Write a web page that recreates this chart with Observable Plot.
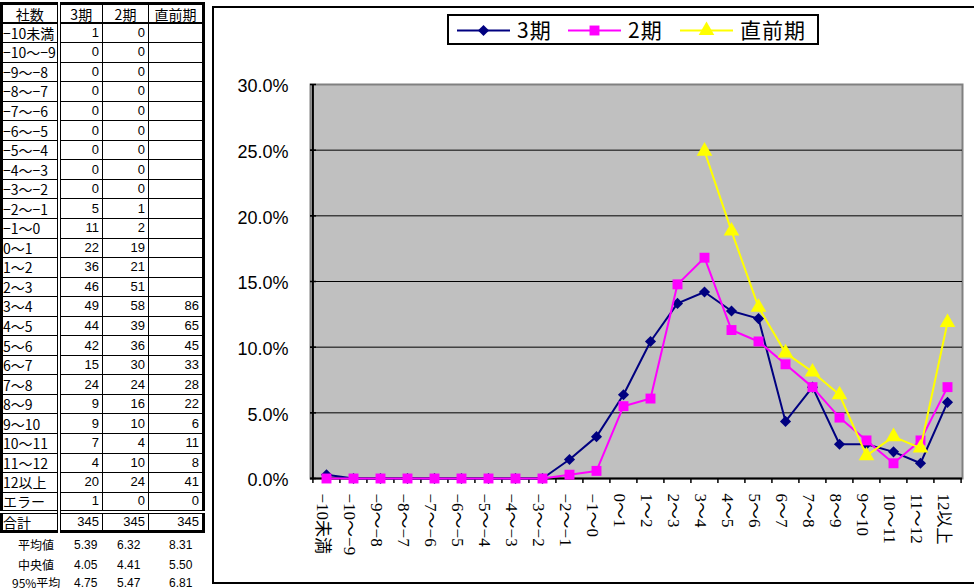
<!DOCTYPE html>
<html><head><meta charset="utf-8">
<script src="https://cdn.jsdelivr.net/npm/d3@7"></script>
<script src="https://cdn.jsdelivr.net/npm/@observablehq/plot@0.6"></script>
<style>
html,body{margin:0;padding:0;}
body{width:974px;height:588px;overflow:hidden;background:#fff;position:relative;font-family:"Noto Sans CJK JP","Liberation Sans",sans-serif;color:#000;}
#tbl{position:absolute;left:0;top:2px;border-collapse:collapse;table-layout:fixed;border:3px solid #000;font-size:13px;font-family:"Liberation Sans","Noto Sans CJK JP",sans-serif;}
#tbl td{border:1px solid #000;padding:0 3px 0 1px;height:19.55px;line-height:16px;white-space:nowrap;overflow:hidden;text-align:right;box-sizing:border-box;}
#tbl td:first-child{text-align:left;border-right:4px double #000;padding:0;}
#tbl tr.hd td{text-align:center;border-bottom:2px solid #000;padding:0;}
#tbl tr.tot td{border-top:4px double #000;}
#tbl .jp{font-family:"Noto Sans CJK JP",sans-serif;font-size:14px;}
.st{position:absolute;font-size:12px;line-height:16px;white-space:nowrap;}
#frame{position:absolute;left:212px;top:6px;width:790px;height:578px;border:2px solid #000;box-sizing:border-box;}
#chart{position:absolute;left:213px;top:7px;}
#legend{position:absolute;left:447px;top:14px;overflow:visible;}
</style></head><body>
<div id="frame"></div>
<div id="chart"></div>
<div id="tblwrap"></div>
<div id="stats"></div>
<svg id="legend" width="372" height="31"></svg>
<script>
// ---- data ----
const categories = ["−10未満","−10～−9","−9～−8","−8～−7","−7～−6","−6～−5","−5～−4","−4～−3","−3～−2","−2～−1","−1～0","0～1","1～2","2～3","3～4","4～5","5～6","6～7","7～8","8～9","9～10","10～11","11～12","12以上"];
const seriesNames = ["3期","2期","直前期"];
const counts3期 = [1,0,0,0,0,0,0,0,0,5,11,22,36,46,49,44,42,15,24,9,9,7,4,20];
const counts2期 = [0,0,0,0,0,0,0,0,0,1,2,19,21,51,58,39,36,30,24,16,10,4,10,24];
const counts直前期 = [null,null,null,null,null,null,null,null,null,null,null,null,null,null,86,65,45,33,28,22,6,11,8,41];
const errorCounts = [1,0,0];
const totals = [345,345,345];
const statLabels = ["平均値","中央値","95%平均"];
const statMean = ["5.39","6.32","8.31"];
const statMedian = ["4.05","4.41","5.50"];
const stat95 = ["4.75","5.47","6.81"];
const yTicks = [0,0.05,0.10,0.15,0.20,0.25,0.30];
const headerLabel = "社数";
const errorLabel = "エラー";
const totalLabel = "合計";

// ---- table ----
const countsBySeries = [counts3期, counts2期, counts直前期];
const table = document.createElement("table");
table.id = "tbl";
const cg = document.createElement("colgroup");
[57,44,46,55].forEach(w => { const c = document.createElement("col"); c.style.width = w + "px"; cg.appendChild(c); });
table.appendChild(cg);
function addRow(cells, cls) {
  const tr = document.createElement("tr");
  if (cls) tr.className = cls;
  cells.forEach((v, i) => {
    const td = document.createElement("td");
    td.textContent = v == null ? "" : v;
    if (i === 0 || cls === "hd") td.className = "jp";
    tr.appendChild(td);
  });
  table.appendChild(tr);
}
addRow([headerLabel, ...seriesNames], "hd");
categories.forEach((c, i) => addRow([c, ...countsBySeries.map(a => a[i])]));
addRow([errorLabel, ...errorCounts]);
addRow([totalLabel, ...totals], "tot");
document.getElementById("tblwrap").appendChild(table);

const stats = document.getElementById("stats");
const statRows = [statMean, statMedian, stat95];
const statY = [537, 557, 575];
const statX = [86, 129, 181];
statLabels.forEach((lab, r) => {
  const d = document.createElement("div");
  d.className = "st"; d.textContent = lab;
  d.style.left = (r === 2 ? 12 : 18) + "px"; d.style.top = statY[r] + "px";
  stats.appendChild(d);
  statRows[r].forEach((v, c) => {
    const e = document.createElement("div");
    e.className = "st"; e.textContent = v;
    e.style.left = (statX[c] - 12) + "px"; e.style.top = statY[r] + "px";
    e.style.fontFamily = "Liberation Sans";
    stats.appendChild(e);
  });
});

// ---- chart ----
const W = 761, H = 575, mL = 97, mR = 12, mT = 77, mB = 104;
const plotW = W - mL - mR;
const bw = plotW / categories.length;
const colors = ["#000080", "#ff00ff", "#ffff00"];
const symbols = ["diamond2", "square", "triangle"];
const radii = [5.0, 5.6, 5.8];
const data = [];
seriesNames.forEach((s, si) => categories.forEach((c, i) => {
  const v = countsBySeries[si][i];
  if (v != null) data.push({series: s, cat: c, value: v / totals[si]});
}));

const marks = [
  Plot.frame({fill: "#c0c0c0", stroke: "#808080", strokeWidth: 2}),
  Plot.ruleY(yTicks.filter(d => d > 0 && d < 0.3), {stroke: "#000", strokeWidth: 1}),
  Plot.ruleY(yTicks, {stroke: "#000", strokeWidth: 1.5, insetRight: plotW - 6}),
  Plot.ruleY([0], {stroke: "#000", strokeWidth: 2}),
  Plot.ruleX([categories[0]], {dx: -bw / 2, stroke: "#000", strokeWidth: 2}),
  Plot.ruleX(categories, {dx: -bw / 2, stroke: "#000", strokeWidth: 1.5, insetTop: H - mT - mB, insetBottom: -5}),
  Plot.ruleX([categories[categories.length - 1]], {dx: bw / 2, stroke: "#000", strokeWidth: 1.5, insetTop: H - mT - mB, insetBottom: -5}),
  Plot.axisY({ticks: yTicks, tickFormat: d3.format(".1%"), tickSize: 0, tickPadding: 22, dy: 2, fontSize: 18, fontFamily: "Liberation Sans", label: null}),
  Plot.axisX({tickSize: 0, tickPadding: 15, tickRotate: 90, fontSize: 17, fontFamily: "Liberation Serif, Noto Sans CJK JP, serif", dx: -4, label: null})
];
seriesNames.forEach((s, si) => {
  const sd = data.filter(d => d.series === s);
  marks.push(Plot.line(sd, {x: "cat", y: "value", stroke: colors[si], strokeWidth: 2}));
  marks.push(Plot.dot(sd, {x: "cat", y: "value", symbol: symbols[si], r: radii[si], fill: colors[si], stroke: "none"}));
});

const chart = Plot.plot({
  width: W, height: H,
  marginLeft: mL, marginRight: mR, marginTop: mT, marginBottom: mB,
  style: {background: "transparent", overflow: "visible", color: "#000"},
  x: {type: "point", domain: categories, padding: 0.5, align: 0.5, label: null},
  y: {domain: [0, 0.30], label: null},
  marks
});
document.getElementById("chart").appendChild(chart);

// ---- legend ----
const lg = d3.select("#legend");
lg.append("rect").attr("x", 1).attr("y", 1).attr("width", 370).attr("height", 29).attr("fill", "#fff").attr("stroke", "#000").attr("stroke-width", 2);
const lgX = [10, 121, 233];
const textX = [70, 181, 293];
const symTypes = [d3.symbolDiamond2, d3.symbolSquare, d3.symbolTriangle];
seriesNames.forEach((s, i) => {
  const x0 = lgX[i];
  lg.append("line").attr("x1", x0).attr("x2", x0 + 53).attr("y1", 16.5).attr("y2", 16.5).attr("stroke", colors[i]).attr("stroke-width", 2);
  lg.append("path").attr("d", d3.symbol(symTypes[i], Math.PI * radii[i] * radii[i])()).attr("transform", `translate(${x0 + 26.5},16.5)`).attr("fill", colors[i]);
  lg.append("text").attr("x", textX[i]).attr("y", 16.5).attr("dy", "0.35em").attr("font-size", 21).attr("letter-spacing", 1).attr("font-family", "Noto Sans CJK JP, sans-serif").text(s);
});
</script>
</body></html>
